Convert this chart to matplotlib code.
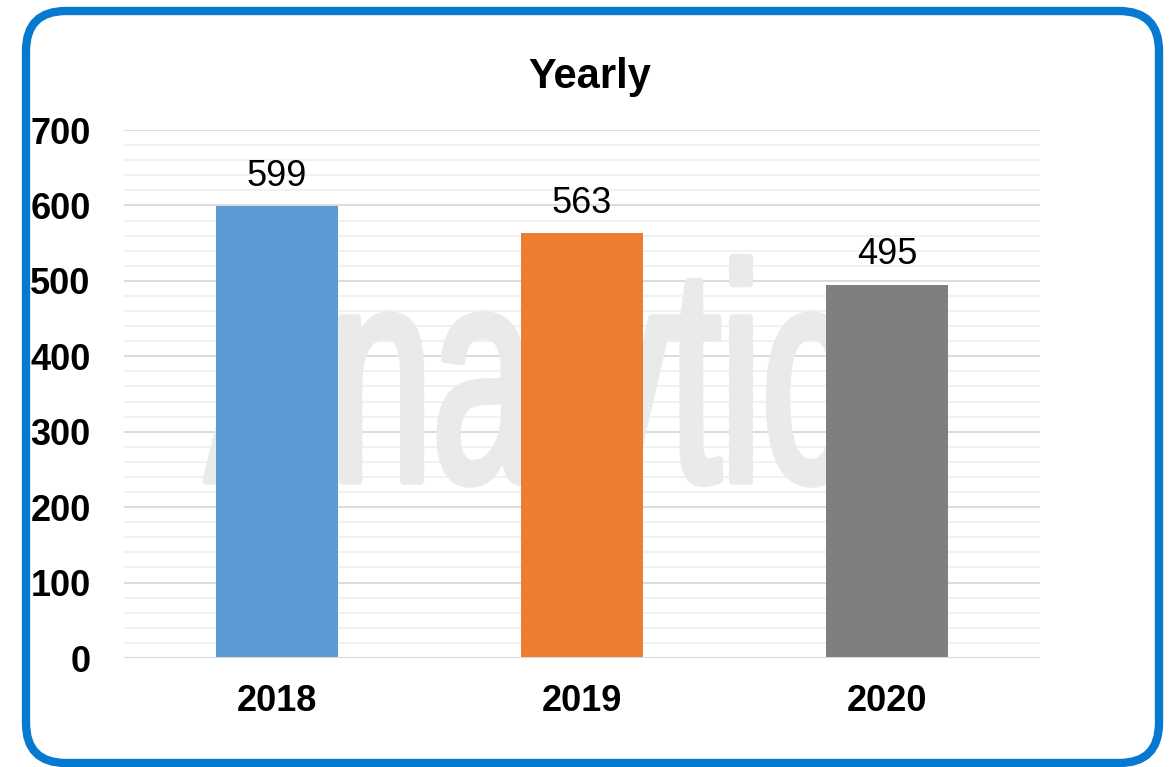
import matplotlib
matplotlib.use('Agg')
from matplotlib import pyplot as plt
from matplotlib.patches import FancyBboxPatch, PathPatch
from matplotlib.textpath import TextPath
from matplotlib.font_manager import FontProperties
from matplotlib.transforms import Affine2D, IdentityTransform
import numpy as np

years = ['2018', '2019', '2020']
counts = [599, 563, 495]
colors = ['#5B9BD5', '#ED7D31', '#7F7F7F']
title = 'Yearly'
watermark = 'Analytics'

plt.rcParams['font.family'] = ['Liberation Sans', 'DejaVu Sans']

W, H = 1171, 767
fig = plt.figure(figsize=(W / 100, H / 100), dpi=100)
ax = fig.add_axes([124 / W, (H - 658) / H, (1040 - 124) / W, (658 - 130) / H])

x = np.arange(len(years))
ax.set_xlim(-0.5, len(years) - 0.5)
ax.set_ylim(0, 700)

# gridlines: major every 100, minor every 20
for v in np.arange(20, 700, 20):
    if v % 100:
        ax.axhline(v, color='#F0F0F0', lw=1.3, zorder=0)
for v in np.arange(100, 701, 100):
    ax.axhline(v, color='#D9D9D9', lw=1.3, zorder=0.5)
ax.axhline(0, color='#D9D9D9', lw=1.5, zorder=3)

# faint watermark behind the bars
fp = FontProperties(family=['Liberation Sans Narrow', 'Liberation Sans'])
tp = TextPath((0, 0), watermark, size=1, prop=fp)
cap = TextPath((0, 0), 'A', size=1, prop=fp).get_extents().height
ext = tp.get_extents()
px = lambda p: (p - 124) / 304.5 - 0.5
py = lambda p: (658 - p) / 0.754
sx = (px(938) - px(206)) / ext.width
sy = (py(269) - py(481)) / cap
tr = Affine2D().translate(-ext.x0, 0).scale(sx, sy).translate(px(206), py(481)) + ax.transData
ax.add_patch(PathPatch(tp, transform=tr, facecolor='#EAEAEA', edgecolor='#EAEAEA',
                       lw=5.5, joinstyle='round', zorder=1))

bars = ax.bar(x, counts, width=0.4, color=colors, zorder=2)
for xi, c in zip(x, counts):
    ax.annotate(str(c), (xi, c), xytext=(0, 9), textcoords='offset points',
                ha='center', va='bottom', fontsize=26, color='#000000')

ax.set_xticks(x)
ax.set_xticklabels(years, fontsize=26, fontweight='bold')
ax.set_yticks(np.arange(0, 701, 100))
ax.set_yticklabels([str(v) for v in range(0, 701, 100)], fontsize=26, fontweight='bold')
ax.tick_params(axis='x', length=0, pad=19)
ax.tick_params(axis='y', length=0, pad=24)
for s in ax.spines.values():
    s.set_visible(False)

fig.text(590 / W, (H - 77) / H, title, ha='center', va='center', fontsize=30, fontweight='bold')

# rounded blue frame
frame = FancyBboxPatch((26, 4), 1159 - 26, 756 - 4,
                       boxstyle='round,pad=0,rounding_size=40',
                       transform=IdentityTransform(), facecolor='none',
                       edgecolor='#0679D0', lw=6, zorder=10)
fig.patches.append(frame)

fig.savefig('out.png', dpi=100)
